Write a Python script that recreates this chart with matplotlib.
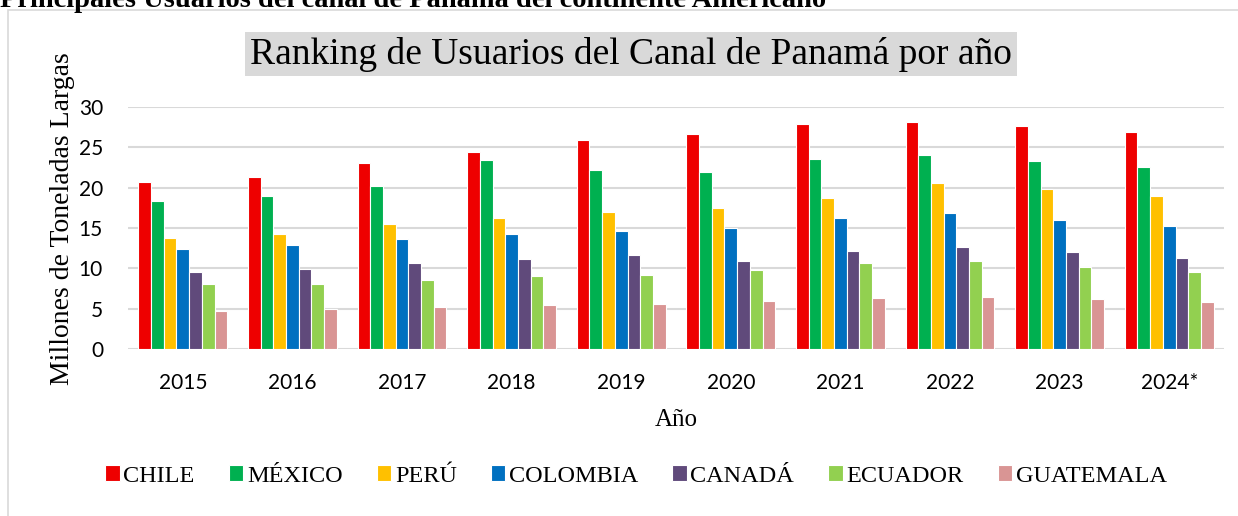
import matplotlib
matplotlib.use("Agg")
import matplotlib.pyplot as plt
from matplotlib.patches import Rectangle
import numpy as np

years = ["2015", "2016", "2017", "2018", "2019", "2020", "2021", "2022", "2023", "2024*"]
countries = ["CHILE", "MÉXICO", "PERÚ", "COLOMBIA", "CANADÁ", "ECUADOR", "GUATEMALA"]
colors = ["#EE0000", "#00B050", "#FFC000", "#0070C0", "#604A7B", "#92D050", "#D99594"]

chile = [20.7, 21.3, 23.0, 24.4, 25.9, 26.6, 27.9, 28.2, 27.6, 26.9]
mexico = [18.3, 19.0, 20.2, 23.4, 22.2, 21.9, 23.6, 24.1, 23.3, 22.6]
peru = [13.8, 14.3, 15.5, 16.2, 17.0, 17.5, 18.7, 20.6, 19.8, 19.0]
colombia = [12.4, 12.9, 13.6, 14.2, 14.6, 15.0, 16.3, 16.9, 16.0, 15.2]
canada = [9.6, 9.9, 10.6, 11.2, 11.6, 10.9, 12.2, 12.6, 12.0, 11.3]
ecuador = [8.0, 8.1, 8.6, 9.0, 9.2, 9.8, 10.6, 10.9, 10.2, 9.5]
guatemala = [4.7, 5.0, 5.2, 5.4, 5.6, 5.9, 6.3, 6.5, 6.2, 5.8]
series = [chile, mexico, peru, colombia, canada, ecuador, guatemala]

W, H = 1238, 516
fig = plt.figure(figsize=(W / 100, H / 100), dpi=100)

serif = "Liberation Serif"
sans = "Lato"

# outer chart frame (cut off at right and bottom)
fig.patches.append(Rectangle((8 / W, -0.05), 1.2, (H - 10) / H + 0.05, transform=fig.transFigure,
                             fill=False, edgecolor="#D9D9D9", linewidth=1.2))

# caption above the frame, clipped by the top edge as in the source
fig.text(0.0, 1 - 7 / H, "Principales Usuarios del canal de Panamá del continente Americano",
         fontfamily=serif, fontweight="bold", fontsize=20.5, ha="left", va="baseline")

# title in grey box
fig.text(631 / W, 1 - 54 / H, "Ranking de Usuarios del Canal de Panamá por año",
         fontfamily=serif, fontsize=27, ha="center", va="center",
         bbox=dict(boxstyle="square,pad=0.13", facecolor="#D9D9D9", edgecolor="none"))

ax = fig.add_axes([128 / W, 1 - 349 / H, (1224 - 128) / W, (349 - 107) / H])

x = np.arange(len(years))
n = len(series)
group = 0.81
bw = group / n
for i, (vals, c, name) in enumerate(zip(series, colors, countries)):
    ax.bar(x - group / 2 + bw * (i + 0.5), vals, width=bw, color=c, edgecolor="white",
           linewidth=0.8, label=name, zorder=3)

ax.set_xlim(-0.5, len(years) - 0.5)
ax.set_ylim(0, 30)
ax.set_yticks(range(0, 31, 5))
ax.set_xticks(x)
ax.set_xticklabels(years)
ax.grid(axis="y", color="#D9D9D9", linewidth=1.5, zorder=0)
ax.set_axisbelow(True)
for s in ax.spines.values():
    s.set_visible(False)
ax.tick_params(length=0, labelsize=15)
ax.tick_params(axis="y", pad=18)
ax.tick_params(axis="x", pad=17)
for lab in ax.get_xticklabels() + ax.get_yticklabels():
    lab.set_fontfamily(sans)

ax.set_ylabel("Millones de Toneladas Largas", fontfamily=serif, fontsize=20)
ax.yaxis.set_label_coords(-53 / (1224 - 128), (349 - 219) / (349 - 107))
ax.set_xlabel("Año", fontfamily=serif, fontsize=18, labelpad=12)

fig.legend(loc="center", bbox_to_anchor=(636 / W, 1 - 476 / H), ncol=7, frameon=False,
           prop={"family": serif, "size": 17.5}, handlelength=0.6, handleheight=0.6,
           handletextpad=0.15, columnspacing=1.4, borderaxespad=0)

fig.savefig("out.png", dpi=100)
